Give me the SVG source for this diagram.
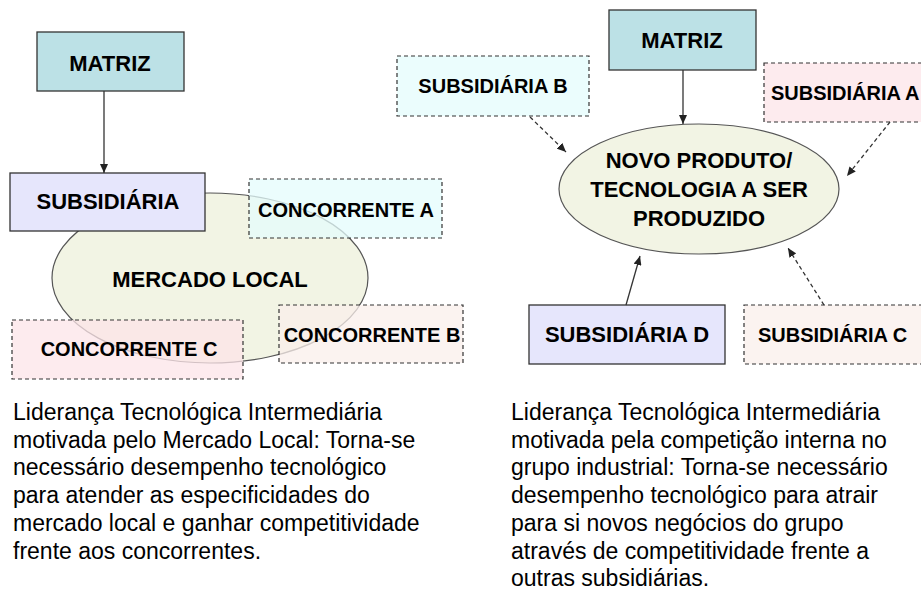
<svg xmlns="http://www.w3.org/2000/svg" width="921" height="592" viewBox="0 0 921 592">
<defs>
<marker id="ah" markerUnits="userSpaceOnUse" markerWidth="10" markerHeight="8" refX="9" refY="4" orient="auto">
<path d="M0,0 L9,4 L0,8 z" fill="#222"/>
</marker>
<style>
.solid{stroke:#333;stroke-width:1.3}
.dash{stroke:#333;stroke-width:1.2;stroke-dasharray:4,3}
.lbl{font-family:"Liberation Sans",Arial,sans-serif;font-weight:bold;fill:#000;text-anchor:middle}
.big{font-size:22px}
.sm{font-size:20px}
.body{font-family:"Liberation Sans",Arial,sans-serif;font-size:23px;fill:#000}
.line{stroke:#333;stroke-width:1.3;fill:none}
.dline{stroke:#333;stroke-width:1.3;fill:none;stroke-dasharray:4,3}
</style>
</defs>
<rect width="921" height="592" fill="#fff"/>

<!-- LEFT DIAGRAM -->
<g id="mercado-local">
<ellipse cx="210" cy="278" rx="158" ry="85" fill="#F2F4E4" stroke="#555" stroke-width="1.2"/>
<text class="lbl big" x="210" y="287">MERCADO LOCAL</text>
</g>
<g id="matriz-left">
<rect x="37" y="32" width="147" height="59" fill="#BCE1E6" class="solid"/>
<text class="lbl big" x="110" y="71">MATRIZ</text>
</g>
<g id="subsidiaria">
<rect x="10" y="173" width="195" height="58" fill="#E6E6FC" class="solid"/>
<text class="lbl big" x="108" y="209">SUBSIDIÁRIA</text>
</g>
<g id="concorrente-a">
<rect x="249" y="179" width="193" height="59" fill="#E4FCFC" fill-opacity="0.75" class="dash"/>
<text class="lbl sm" x="346" y="217">CONCORRENTE A</text>
</g>
<g id="concorrente-b">
<rect x="279" y="305" width="184" height="58" fill="#F9EFEB" fill-opacity="0.75" class="dash"/>
<text class="lbl sm" x="372" y="342">CONCORRENTE B</text>
</g>
<g id="concorrente-c">
<rect x="12" y="320" width="231" height="59" fill="#FCE4E8" fill-opacity="0.75" class="dash"/>
<text class="lbl sm" x="129" y="356">CONCORRENTE C</text>
</g>

<!-- RIGHT DIAGRAM -->
<g id="novo-produto">
<ellipse cx="699" cy="189" rx="140" ry="65" fill="#F2F4E4" stroke="#555" stroke-width="1.2"/>
<text class="lbl big" x="699" y="168">NOVO PRODUTO/</text>
<text class="lbl big" x="699" y="197">TECNOLOGIA A SER</text>
<text class="lbl big" x="699" y="226">PRODUZIDO</text>
</g>
<g id="matriz-right">
<rect x="609" y="10" width="147" height="60" fill="#BCE1E6" class="solid"/>
<text class="lbl big" x="682" y="48">MATRIZ</text>
</g>
<g id="subsidiaria-b">
<rect x="397" y="56" width="192" height="60" fill="#E4FCFC" fill-opacity="0.75" class="dash"/>
<text class="lbl sm" x="493" y="93">SUBSIDIÁRIA B</text>
</g>
<g id="subsidiaria-a">
<rect x="764" y="63" width="170" height="59" fill="#FCE4E8" fill-opacity="0.75" class="dash"/>
<text class="lbl sm" x="771" y="100" style="text-anchor:start">SUBSIDIÁRIA A</text>
</g>
<g id="subsidiaria-d">
<rect x="529" y="305" width="196" height="59" fill="#E6E6FC" class="solid"/>
<text class="lbl big" x="627" y="342">SUBSIDIÁRIA D</text>
</g>
<g id="subsidiaria-c">
<rect x="744" y="305" width="190" height="59" fill="#F9EFEB" fill-opacity="0.75" class="dash"/>
<text class="lbl sm" x="758" y="342" style="text-anchor:start">SUBSIDIÁRIA C</text>
</g>

<!-- CONNECTORS -->
<g id="connectors">
<line class="line" x1="104" y1="91" x2="104" y2="173" marker-end="url(#ah)"/>
<line class="line" x1="683" y1="70" x2="683" y2="124" marker-end="url(#ah)"/>
<line class="dline" x1="530" y1="117" x2="566" y2="152" marker-end="url(#ah)"/>
<line class="dline" x1="890" y1="122" x2="847" y2="176" marker-end="url(#ah)"/>
<line class="line" x1="626" y1="305" x2="640" y2="256" marker-end="url(#ah)"/>
<line class="dline" x1="824" y1="305" x2="788" y2="248" marker-end="url(#ah)"/>
</g>

<!-- DESCRIPTIONS -->
<g id="desc-left">
<text class="body" x="13" y="420">Liderança Tecnológica Intermediária</text>
<text class="body" x="13" y="448">motivada pelo Mercado Local: Torna-se</text>
<text class="body" x="13" y="475">necessário desempenho tecnológico</text>
<text class="body" x="13" y="503">para atender as especificidades do</text>
<text class="body" x="13" y="531">mercado local e ganhar competitividade</text>
<text class="body" x="13" y="559">frente aos concorrentes.</text>
</g>
<g id="desc-right">
<text class="body" x="511" y="420">Liderança Tecnológica Intermediária</text>
<text class="body" x="511" y="448">motivada pela competição interna no</text>
<text class="body" x="511" y="475">grupo industrial: Torna-se necessário</text>
<text class="body" x="511" y="503">desempenho tecnológico para atrair</text>
<text class="body" x="511" y="531">para si novos negócios do grupo</text>
<text class="body" x="511" y="559">através de competitividade frente a</text>
<text class="body" x="511" y="586">outras subsidiárias.</text>
</g>
</svg>
